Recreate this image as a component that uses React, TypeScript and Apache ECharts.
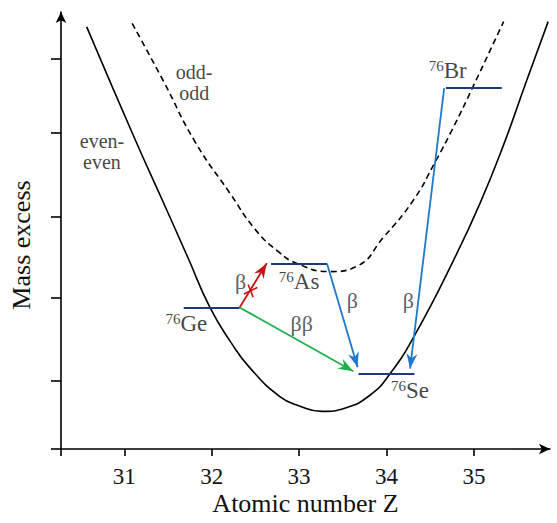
import React, { useEffect, useRef } from 'react';
import * as echarts from 'echarts';

const FONT = 'Liberation Serif';

// axis ranges and ticks
const Z_MIN = 30.276;
const Z_MAX = 35.871;
const Y_MIN = 0;
const Y_MAX = 10;
const xTickLabels = [31, 32, 33, 34, 35];
const xTickValues = [30.276, 31, 32, 33, 34, 35];
const yTickValues = [0, 1.56, 3.45, 5.31, 7.23, 8.93];

// even-even mass parabola
const evenZ = [30.57, 31.12, 31.45, 31.73, 31.98, 32.22, 32.44, 32.78, 33.01, 33.26, 33.53, 33.81, 34.04, 34.33, 34.77, 35.07, 35.34, 35.6, 35.85];
const evenY = [9.66, 7.1, 5.63, 4.37, 3.24, 2.44, 1.85, 1.2, 0.98, 0.86, 0.94, 1.23, 1.72, 2.63, 4.33, 5.62, 6.96, 8.41, 9.78];

// odd-odd mass parabola
const oddZ = [31.09, 31.45, 31.81, 32.21, 32.5, 32.76, 32.97, 33.35, 33.66, 33.96, 34.31, 34.56, 34.75, 34.99, 35.34];
const oddY = [9.74, 8.41, 7.03, 5.85, 5.02, 4.52, 4.25, 4.06, 4.18, 4.83, 5.7, 6.58, 7.3, 8.29, 9.78];

// nuclear levels (A = 76)
const massNumber = 76;
const levelNames = ['Ge', 'As', 'Se', 'Br'];
const levelZ = [32, 33, 34, 35];
const levelY = [3.24, 4.24, 1.72, 8.26];
const levelHalfWidth = 0.32;
const levelLabelZ = [31.71, 33.0, 34.27, 34.7];
const levelLabelY = [2.87, 3.83, 1.33, 8.67];

// decay arrows
const arrowFromZ = [32.32, 33.32, 34.66, 32.32];
const arrowFromY = [3.24, 4.24, 8.26, 3.24];
const arrowToZ = [32.63, 33.67, 34.27, 33.62];
const arrowToY = [4.25, 1.87, 1.84, 1.78];
const arrowColors = ['#c81414', '#1f78cc', '#1f78cc', '#1fb04b'];

// forbidden-decay cross on the red arrow
const crossFromZ = [32.369, 32.417];
const crossFromY = [3.545, 3.764];
const crossToZ = [32.523, 32.475];
const crossToY = [3.695, 3.476];

// text annotations
const decayLabels = ['β', 'β', 'β', 'ββ'];
const decayLabelZ = [32.33, 33.61, 34.25, 33.03];
const decayLabelY = [3.83, 3.39, 3.39, 2.87];
const curveLabels = ['odd-\nodd', 'even-\neven'];
const curveLabelZ = [31.8, 30.745];
const curveLabelY = [8.38, 6.8];

const NAVY = '#1c3a78';
const TEXT = '#111';
const ARROW_PATH = 'path://M5,-10 M0,10 L5,0 L10,10 L5,7 Z';

export default function App() {
  const ref = useRef<HTMLDivElement>(null);
  useEffect(() => {
    if (!ref.current) return;
    const chart = echarts.init(ref.current, null, { renderer: 'svg' });

    const markData: any[] = [];
    levelZ.forEach((z, i) => {
      markData.push([
        { coord: [z - levelHalfWidth, levelY[i]], symbol: 'none', lineStyle: { color: NAVY, width: 2, type: 'solid' } },
        { coord: [z + levelHalfWidth, levelY[i]], symbol: 'none' },
      ]);
    });
    arrowFromZ.forEach((z, i) => {
      markData.push([
        { coord: [z, arrowFromY[i]], symbol: 'none', lineStyle: { color: arrowColors[i], width: 1.8, type: 'solid' } },
        { coord: [arrowToZ[i], arrowToY[i]], symbol: ARROW_PATH, symbolSize: [11, 30] },
      ]);
    });
    crossFromZ.forEach((z, i) => {
      markData.push([
        { coord: [z, crossFromY[i]], symbol: 'none', lineStyle: { color: arrowColors[0], width: 1.6, type: 'solid' } },
        { coord: [crossToZ[i], crossToY[i]], symbol: 'none' },
      ]);
    });

    const labelData: any[] = [];
    levelNames.forEach((n, i) => {
      labelData.push({ value: [levelLabelZ[i], levelLabelY[i]], label: { formatter: `{sup|${massNumber}}{el|${n}}` } });
    });
    decayLabels.forEach((t, i) => {
      labelData.push({ value: [decayLabelZ[i], decayLabelY[i]], label: { formatter: `{gr|${t}}` } });
    });
    curveLabels.forEach((t, i) => {
      labelData.push({ value: [curveLabelZ[i], curveLabelY[i]], label: { formatter: t, fontSize: 20, lineHeight: 21, align: 'center' } });
    });

    const axisLineStyle = { color: '#000', width: 1.6 };

    chart.setOption({
      animation: false,
      grid: { left: 61, right: 7, top: 12, bottom: 74, containLabel: false, outerBoundsMode: 'none' },
      graphic: [
        {
          type: 'text',
          x: 21,
          y: 245,
          rotation: Math.PI / 2,
          silent: true,
          style: { text: 'Mass excess', fontFamily: FONT, fontSize: 26, fill: TEXT, align: 'center', verticalAlign: 'middle' },
        },
      ],
      xAxis: {
        type: 'value',
        min: Z_MIN,
        max: Z_MAX,
        name: 'Atomic number Z',
        nameLocation: 'middle',
        nameGap: 41,
        nameMoveOverlap: false,
        nameTextStyle: { fontFamily: FONT, fontSize: 26, color: TEXT },
        axisLine: { show: true, onZero: false, symbol: ['none', 'arrow'], symbolSize: [8, 11], lineStyle: axisLineStyle },
        axisTick: { show: true, customValues: xTickValues, length: 7, lineStyle: axisLineStyle },
        axisLabel: { show: true, customValues: xTickLabels, fontFamily: FONT, fontSize: 23, color: TEXT, margin: 16 },
        splitLine: { show: false },
      },
      yAxis: {
        type: 'value',
        min: Y_MIN,
        max: Y_MAX,
        axisLine: { show: true, onZero: false, symbol: ['none', 'arrow'], symbolSize: [8, 11], lineStyle: axisLineStyle },
        axisTick: { show: true, customValues: yTickValues, length: 10, lineStyle: axisLineStyle },
        axisLabel: { show: false },
        splitLine: { show: false },
      },
      series: [
        {
          type: 'line',
          name: 'even-even',
          data: evenZ.map((z, i) => [z, evenY[i]]),
          smooth: 0.5,
          showSymbol: false,
          silent: true,
          lineStyle: { color: '#000', width: 1.6 },
          z: 2,
        },
        {
          type: 'line',
          name: 'odd-odd',
          data: oddZ.map((z, i) => [z, oddY[i]]),
          smooth: 0.5,
          showSymbol: false,
          silent: true,
          lineStyle: { color: '#000', width: 1.6, type: [6, 4] },
          z: 2,
          markLine: {
            silent: true,
            symbol: ['none', 'none'],
            label: { show: false },
            emphasis: { disabled: true },
            data: markData,
            z: 3,
          },
        },
        {
          type: 'scatter',
          data: labelData,
          symbolSize: 0,
          silent: true,
          z: 5,
          label: {
            show: true,
            position: 'inside',
            fontFamily: FONT,
            fontSize: 21,
            color: TEXT,
            rich: {
              sup: { fontFamily: FONT, fontSize: 15, verticalAlign: 'top', lineHeight: 24, color: TEXT },
              el: { fontFamily: FONT, fontSize: 23, lineHeight: 24, color: TEXT },
              gr: { fontFamily: FONT, fontSize: 22, lineHeight: 24, color: '#333' },
            },
          },
        },
      ],
    });
    return () => chart.dispose();
  }, []);
  return <div ref={ref} style={{ position: 'absolute', left: 0, top: 0, width: 557, height: 523 }} />;
}
